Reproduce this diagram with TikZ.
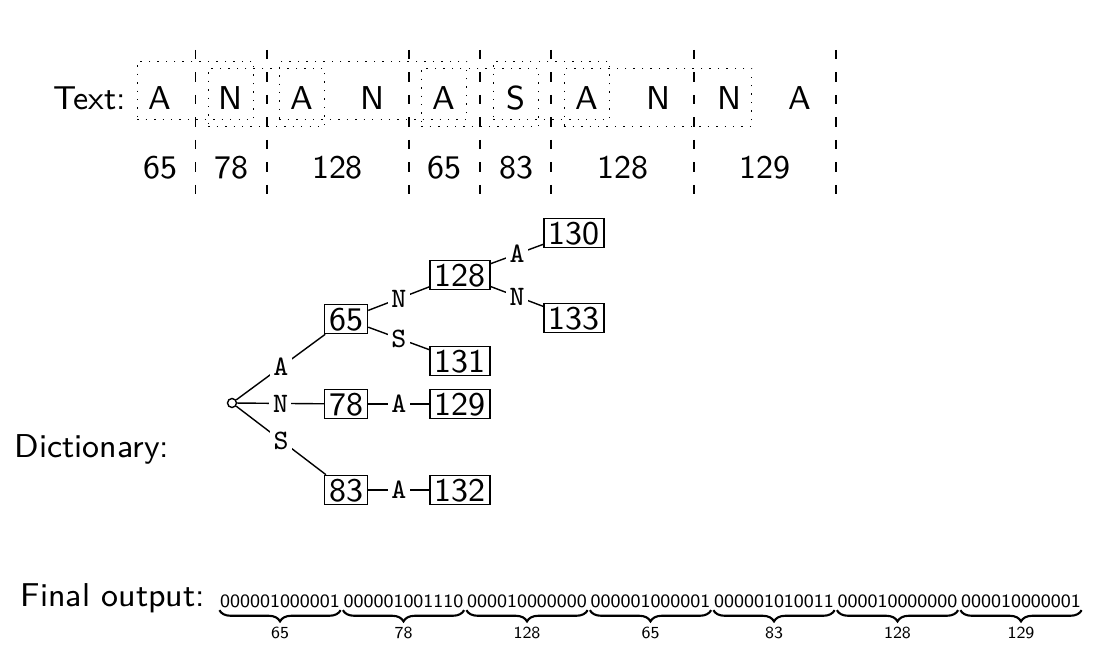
\documentclass[tikz,border=0pt]{standalone}
\usetikzlibrary{positioning, fit, decorations.pathreplacing}
\renewcommand{\familydefault}{\sfdefault}

\begin{document}
\begin{tikzpicture}[
    font=\fontsize{9.4}{11}\selectfont,
    letter/.style={anchor=base, inner sep=0pt, minimum width=0.44cm, text height=0.48cm, text depth=0.09cm},
    window/.style={draw, dotted, inner sep=0pt},
    sep/.style={dash pattern=on 2.6pt off 3.8pt},
    code/.style={rectangle, draw, inner xsep=1.3pt, inner ysep=1pt, text height=6.3pt, text depth=0pt},
    sym/.style={fill=white, inner sep=1pt, font=\fontsize{8}{9}\selectfont\ttfamily},
    bits/.style={anchor=base, inner sep=0pt, font=\fontsize{5.35}{6}\selectfont},
    val/.style={inner sep=0pt, font=\fontsize{4.8}{5}\selectfont},
    bitbrace/.style={decorate, decoration={brace, mirror, amplitude=3.2pt, raise=0.3pt}, line width=0.6pt}
  ]
  \useasboundingbox (0,0) rectangle (11,6.7);

  % input text
  \node[letter] (t0) at (1.60, 5.60) {A};
  \node[letter] (t1) at (2.31, 5.60) {N};
  \node[letter] (t2) at (3.02, 5.60) {A};
  \node[letter] (t3) at (3.73, 5.60) {N};
  \node[letter] (t4) at (4.44, 5.60) {A};
  \node[letter] (t5) at (5.16, 5.60) {S};
  \node[letter] (t6) at (5.87, 5.60) {A};
  \node[letter] (t7) at (6.58, 5.60) {N};
  \node[letter] (t8) at (7.29, 5.60) {N};
  \node[letter] (t9) at (8.00, 5.60) {A};
  \node[anchor=base east, inner sep=0pt] (textlbl) at (1.27, 5.60) {Text:};

  % matched windows
  \node[window, fit=(t0)(t1)] (w1) {};
  \node[window, fit=(t1)(t2), yshift=-0.07cm] (w2) {};
  \node[window, fit=(t2)(t4)] (w3) {};
  \node[window, fit=(t4)(t5), yshift=-0.07cm] (w4) {};
  \node[window, fit=(t5)(t6)] (w5) {};
  \node[window, fit=(t6)(t8), yshift=-0.07cm] (w6) {};

  % emitted codes
  \node[anchor=base] (c0) at (1.60, 4.91) {65};
  \node[anchor=base] (c1) at (2.31, 4.91) {78};
  \node[anchor=base] (c2) at (3.375, 4.91) {128};
  \node[anchor=base] (c3) at (4.44, 4.91) {65};
  \node[anchor=base] (c4) at (5.16, 4.91) {83};
  \node[anchor=base] (c5) at (6.225, 4.91) {128};
  \node[anchor=base] (c6) at (7.645, 4.91) {129};

  \foreach \x in {1.955, 2.67, 4.09, 4.80, 5.51, 6.94, 8.36}
    \draw[sep] (\x, 6.20) -- (\x, 4.75);

  % dictionary trie
  \node[anchor=base west, inner sep=0pt] (dictlbl) at (0.14, 2.12) {Dictionary:};
  \node[circle, draw, inner sep=0pt, minimum size=0.09cm] (root) at (2.32, 2.67) {};
  \begin{scope}[every node/.style={code}]
    \node (n65) at (3.46, 3.51) {65};
    \node (n78) at (3.46, 2.66) {78};
    \node (n83) at (3.46, 1.80) {83};
    \node (n128) at (4.60, 3.95) {128};
    \node (n131) at (4.60, 3.09) {131};
    \node (n129) at (4.60, 2.66) {129};
    \node (n132) at (4.60, 1.80) {132};
    \node (n130) at (5.74, 4.37) {130};
    \node (n133) at (5.74, 3.52) {133};
  \end{scope}
  \path (root) edge node[sym] {A} (n65);
  \path (root) edge node[sym] {N} (n78);
  \path (root) edge node[sym] {S} (n83);
  \path (n65) edge node[sym] {N} (n128);
  \path (n65) edge node[sym] {S} (n131);
  \path (n78) edge node[sym] {A} (n129);
  \path (n83) edge node[sym] {A} (n132);
  \path (n128) edge node[sym] {A} (n130);
  \path (n128) edge node[sym] {N} (n133);

  % output bit stream
  \node[anchor=base west, inner sep=0pt] (outlbl) at (0.20, 0.63) {Final output:};
  \node[bits] (b0) at (2.80, 0.62) {000001000001};
  \node[bits] (b1) at (4.035, 0.62) {000001001110};
  \node[bits] (b2) at (5.27, 0.62) {000010000000};
  \node[bits] (b3) at (6.505, 0.62) {000001000001};
  \node[bits] (b4) at (7.74, 0.62) {000001010011};
  \node[bits] (b5) at (8.975, 0.62) {000010000000};
  \node[bits] (b6) at (10.21, 0.62) {000010000001};
  \foreach \b/\v in {b0/65, b1/78, b2/128, b3/65, b4/83, b5/128, b6/129} {
    \draw[bitbrace] (\b.south west) -- (\b.south east);
    \node[val, below=0.17cm of \b] (v\b) {\v};
  }
\end{tikzpicture}
\end{document}
